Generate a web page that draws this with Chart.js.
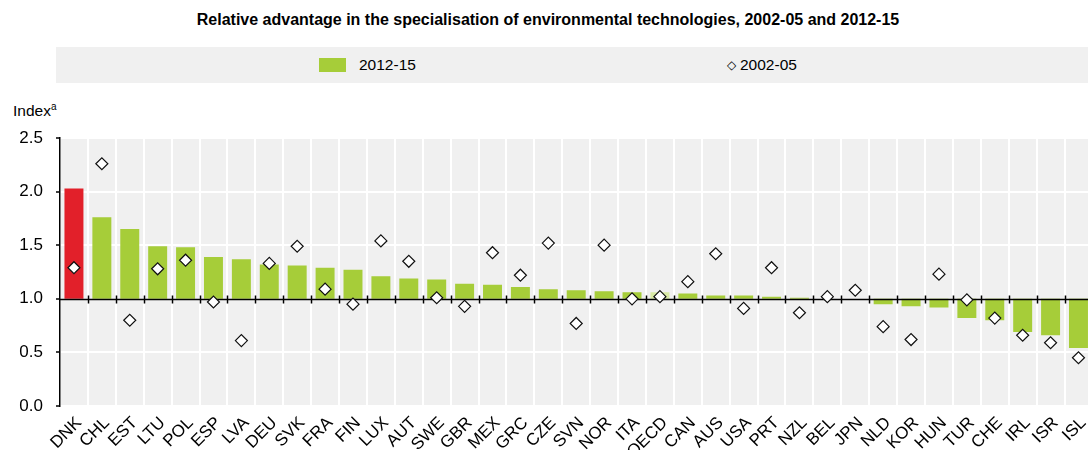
<!DOCTYPE html>
<html>
<head>
<meta charset="utf-8">
<script src="https://cdn.jsdelivr.net/npm/chart.js@4/dist/chart.umd.min.js"></script>
<style>
  html, body { margin: 0; padding: 0; width: 1088px; height: 450px; overflow: hidden; background: #fff; }
  body { position: relative; font-family: "Liberation Sans", Arial, sans-serif; color: #000; }
  #title { position: absolute; top: 11px; left: 0; width: 1096px; text-align: center; font-weight: bold; font-size: 16px; }
  #legend { position: absolute; top: 47px; left: 56px; width: 1032px; height: 36px; background: #f0f0f0; font-size: 15.5px; }
  .lg { position: absolute; top: 9px; white-space: nowrap; }
  .sw { display: inline-block; width: 27px; height: 14px; background: #a6cd39; vertical-align: -2px; margin-right: 13px; }
  .dm { font-size: 12px; vertical-align: 1px; margin-right: 4px; }
  #yunit { position: absolute; top: 101px; left: 13px; font-size: 15.5px; }
  #yunit sup { font-size: 10px; }
  #wrap { position: absolute; top: 90px; left: 0; }
</style>
</head>
<body>
<div id="title">Relative advantage in the specialisation of environmental technologies, 2002-05 and 2012-15</div>
<div id="legend">
  <span class="lg" style="left:263px"><span class="sw"></span>2012-15</span>
  <span class="lg" style="left:671px"><span class="dm">&#9671;</span>2002-05</span>
</div>
<div id="yunit">Index<sup>a</sup></div>
<div id="wrap"><canvas id="chart" width="1100" height="360"></canvas></div>

<script>
// ─── Data ─────────────────────────────────────────────────────────────────────
const countries = ["DNK","CHL","EST","LTU","POL","ESP","LVA","DEU","SVK","FRA","FIN","LUX","AUT","SWE",
  "GBR","MEX","GRC","CZE","SVN","NOR","ITA","OECD","CAN","AUS","USA","PRT","NZL","BEL","JPN","NLD",
  "KOR","HUN","TUR","CHE","IRL","ISR","ISL"];

const idx2012_15 = [2.03,1.76,1.65,1.49,1.48,1.39,1.37,1.32,1.31,1.29,1.27,1.21,1.19,1.18,1.14,1.13,
  1.11,1.09,1.08,1.07,1.06,1.06,1.05,1.03,1.03,1.02,1.01,1.00,1.00,0.95,0.93,0.92,0.82,0.80,0.69,0.66,0.54];

const idx2002_05 = [1.29,2.26,0.80,1.28,1.36,0.97,0.61,1.33,1.49,1.09,0.95,1.54,1.35,1.01,0.93,1.43,
  1.22,1.52,0.77,1.50,1.00,1.02,1.16,1.42,0.91,1.29,0.87,1.02,1.08,0.74,0.62,1.23,0.99,0.82,0.66,0.59,0.45];

const yTicks = [0, 0.5, 1.0, 1.5, 2.0, 2.5];
const BASE = 1.0;

const GREEN = "#a6cd39";
const RED = "#e2202a";
const LIGHT = "#d9eaa5";

// ─── Plugins ──────────────────────────────────────────────────────────────────
const plotBg = {
  id: "plotBg",
  beforeDraw(chart) {
    const { ctx, chartArea: a } = chart;
    ctx.save();
    ctx.fillStyle = "#f0f0f0";
    ctx.fillRect(a.left, a.top, a.right - a.left, a.bottom - a.top);
    ctx.restore();
  }
};

// baseline at 1.0 with small ticks, drawn over the bars but under the diamonds
const baseLine = {
  id: "baseLine",
  beforeDatasetDraw(chart, args) {
    if (args.index !== 1) return;
    const { ctx, chartArea: a, scales: { x, y } } = chart;
    const py = Math.round(y.getPixelForValue(BASE)) + 0.5;
    const step = (a.right - a.left) / countries.length;
    ctx.save();
    ctx.strokeStyle = "#000";
    ctx.lineWidth = 1.5;
    ctx.beginPath();
    ctx.moveTo(a.left, py);
    ctx.lineTo(a.right, py);
    for (let i = 1; i < countries.length; i++) {
      const px = Math.round(x.getPixelForValue(i) - step / 2) + 0.5;
      ctx.moveTo(px, py - 4);
      ctx.lineTo(px, py + 4);
    }
    ctx.stroke();
    ctx.restore();
  }
};

// ─── Chart ────────────────────────────────────────────────────────────────────
Chart.defaults.font.family = '"Liberation Sans", Arial, sans-serif';
Chart.defaults.color = "#000";

new Chart(document.getElementById("chart"), {
  type: "bar",
  data: {
    labels: countries,
    datasets: [
      {
        label: "2012-15",
        data: idx2012_15.map(v => [BASE, v]),
        backgroundColor: countries.map(c => c === "DNK" ? RED : c === "OECD" ? LIGHT : GREEN),
        borderWidth: 0,
        categoryPercentage: 1.0,
        barPercentage: 0.68,
        order: 1,
      },
      {
        type: "line",
        label: "2002-05",
        data: idx2002_05,
        showLine: false,
        pointStyle: "rectRot",
        pointRadius: 6,
        pointHoverRadius: 6,
        pointBackgroundColor: "#fff",
        pointBorderColor: "#111",
        pointBorderWidth: 1.2,
        order: 0,
      }
    ]
  },
  options: {
    responsive: false,
    devicePixelRatio: 1,
    animation: false,
    layout: { padding: { top: 48, right: 0, left: 0, bottom: 0 } },
    plugins: { legend: { display: false }, title: { display: false }, tooltip: { enabled: false } },
    scales: {
      x: {
        offset: true,
        grid: { offset: true, color: "#fff", lineWidth: 2, drawTicks: false },
        border: { display: false },
        ticks: { minRotation: 45, maxRotation: 45, autoSkip: false, padding: 7, labelOffset: 5, font: { size: 17 } },
        afterFit: s => { s.height = 44; }
      },
      y: {
        min: 0,
        max: 2.5,
        afterBuildTicks: s => { s.ticks = yTicks.map(v => ({ value: v })); },
        grid: {
          color: c => c.tick && c.tick.value === BASE ? "rgba(0,0,0,0)" : "#fff",
          lineWidth: 2,
          tickColor: "#000",
          tickLength: 4,
          tickWidth: 1.5
        },
        border: { display: true, color: "#000", width: 1.5 },
        ticks: { padding: 13, font: { size: 17 }, callback: v => Number(v).toFixed(1) },
        afterFit: s => { s.width = 60; }
      }
    }
  },
  plugins: [plotBg, baseLine]
});
</script>
</body>
</html>
